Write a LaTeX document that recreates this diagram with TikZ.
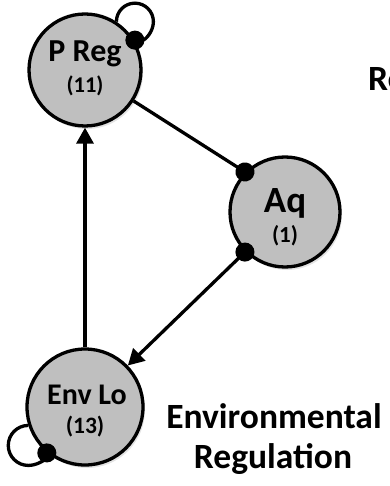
\documentclass[tikz,border=0pt]{standalone}
\usepackage{fontspec}
\setmainfont{Carlito}
\usetikzlibrary{arrows.meta,shadows,calc}
\definecolor{nodegray}{RGB}{191,191,191}
\tikzset{
  statenode/.style={circle, draw=black, line width=3.3pt, fill=nodegray, inner sep=0pt,
    drop shadow={opacity=0.22, shadow xshift=2pt, shadow yshift=-3pt}},
  edge/.style={line width=3.3pt, black},
  dottip/.tip={Circle[length=19pt,width=19pt]},
  tritip/.tip={Triangle[length=16pt,width=17pt]},
  lbl/.style={anchor=base, inner sep=0pt, font=\bfseries},
  big/.style={lbl, font=\bfseries\fontsize{35.5}{40}\selectfont},
}
\begin{document}
\begin{tikzpicture}[x=1pt,y=1pt]
\useasboundingbox (0,0) rectangle (389,-486);
\clip (0,0) rectangle (389,-486);

% state nodes
\node[statenode, minimum size=112pt] (preg) at (85,-70) {};
\node[statenode, minimum size=110pt] (aq) at (285,-212) {};
\node[statenode, minimum size=116pt] (envlo) at (85,-407) {};

% node texts
\node[lbl, font=\bfseries\fontsize{32}{38}\selectfont] (tpreg) at (85,-62) {P Reg};
\node[lbl, font=\bfseries\fontsize{22.5}{27}\selectfont] (npreg) at (85,-93) {(11)};
\node[lbl, font=\bfseries\fontsize{37}{44}\selectfont] (taq) at (285,-212) {Aq};
\node[lbl, font=\bfseries\fontsize{23}{28}\selectfont] (naq) at (285,-242) {(1)};
\node[lbl, font=\bfseries\fontsize{30}{36}\selectfont] (tenv) at (87,-404) {Env Lo};
\node[lbl, font=\bfseries\fontsize{23.5}{28}\selectfont] (nenv) at (85,-433) {(13)};

% connectors
\draw[edge, -{dottip}, shorten >=-9.5pt] (preg) -- (aq.135);
\draw[edge, {dottip}-{tritip}, shorten <=-9.5pt] (aq.225) -- (envlo);
\draw[edge, -{tritip}] (envlo) -- (preg);

% self loops
\draw[edge, -{dottip}, shorten >=-9.5pt] (preg.57) arc[start angle=180, end angle=-90, radius=18.5];
\draw[edge, -{dottip}, shorten >=-9.5pt] (envlo.198) arc[start angle=90, end angle=338, radius=20];

% titles
\node[big] (env1) at (274,-428) {Environmental};
\node[big] (env2) at (273,-468) {Regulation};
\node[big, anchor=base west] (re) at (368,-91) {Re};
\end{tikzpicture}
\end{document}
